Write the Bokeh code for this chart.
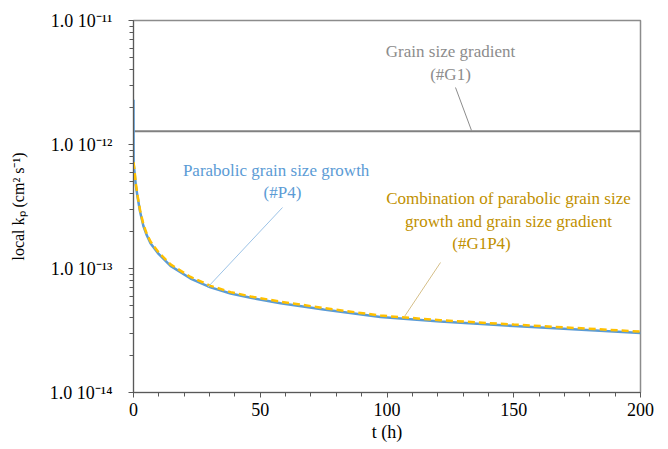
from bokeh.plotting import figure
from bokeh.models import (Range1d, FixedTicker, CustomJSTickFormatter, Label, ColumnDataSource)
from bokeh.embed import file_html
from bokeh.resources import INLINE

# ---------------- data ----------------
t_g1 = [0, 200]
kp_g1 = [1.28e-12, 1.28e-12]

t_p4 = [0, 0.05, 0.4, 0.9, 1.7, 2.6, 3.9, 5.2, 6.7, 9.9, 14.6, 22.5, 30.4, 38.3,
        46.2, 58, 75, 97.4, 121, 150, 200]
kp_p4 = [2.3e-12, 7.0e-13, 6.0e-13, 4.7e-13, 3.67e-13, 2.87e-13, 2.2e-13, 1.86e-13,
         1.6e-13, 1.31e-13, 1.05e-13, 8.3e-14, 7.05e-14, 6.28e-14, 5.8e-14, 5.25e-14,
         4.67e-14, 4.06e-14, 3.73e-14, 3.44e-14, 3.02e-14]

t_g1p4 = [0, 0.4, 0.9, 1.7, 2.6, 3.9, 5.2, 6.7, 9.9, 14.6, 22.5, 30.4, 38.3, 46.2,
          58, 75, 97.4, 121, 150, 200]
kp_g1p4 = [7.2e-13, 6.2e-13, 4.85e-13, 3.78e-13, 2.95e-13, 2.27e-13, 1.91e-13, 1.65e-13,
           1.35e-13, 1.08e-13, 8.55e-14, 7.25e-14, 6.45e-14, 5.95e-14, 5.4e-14, 4.8e-14,
           4.17e-14, 3.83e-14, 3.53e-14, 3.1e-14]

x_ticks = [0, 50, 100, 150, 200]
y_ticks = [1e-14, 1e-13, 1e-12, 1e-11]

# ---------------- styling ----------------
SERIF = "Liberation Serif"
GRAY = "#808080"
BLUE = "#5B9BD5"
GOLD = "#FFC000"
GOLD_TXT = "#BF9000"

p = figure(width=664, height=446, y_axis_type="log",
           x_range=Range1d(0, 200), y_range=Range1d(1e-14, 1e-11),
           output_backend="svg", toolbar_location=None,
           min_border_left=133, min_border_right=24,
           min_border_top=20, min_border_bottom=54)

p.xgrid.visible = False
p.ygrid.visible = False
p.outline_line_color = "#8c8c8c"
p.outline_line_width = 1.5
p.background_fill_color = "white"
p.border_fill_color = "white"

minor_y = [m * 10.0 ** e for e in (-14, -13, -12) for m in range(2, 10)]
p.yaxis.ticker = FixedTicker(ticks=y_ticks, minor_ticks=minor_y)
p.xaxis.ticker = FixedTicker(ticks=x_ticks, minor_ticks=list(range(0, 201, 10)))
p.yaxis.formatter = CustomJSTickFormatter(code="""
const e = Math.round(Math.log10(tick));
const sup = {'-':'\u207b','0':'\u2070','1':'\u00b9','2':'\u00b2','3':'\u00b3','4':'\u2074',
             '5':'\u2075','6':'\u2076','7':'\u2077','8':'\u2078','9':'\u2079'};
return '1.0 10' + String(e).split('').map(c => sup[c]).join('');
""")

for ax in (p.xaxis, p.yaxis):
    ax.axis_line_color = "#595959"
    ax.major_tick_line_color = "#595959"
    ax.minor_tick_line_color = "#595959"
    ax.major_tick_out = 5
    ax.major_tick_in = 0
    ax.minor_tick_out = 4
    ax.minor_tick_in = 0
    ax.major_label_text_font = SERIF
    ax.major_label_text_font_size = "18px"
    ax.major_label_text_color = "black"
    ax.axis_label_text_font = SERIF
    ax.axis_label_text_font_style = "normal"
    ax.axis_label_text_color = "black"

p.yaxis.major_label_standoff = 16
p.yaxis.axis_label = "local k\u209a (cm\u00b2 s\u207b\u00b9)"
p.yaxis.axis_label_text_font_size = "16px"
p.yaxis.axis_label_standoff = 20

p.xaxis.major_label_standoff = 5
p.xaxis.axis_label = "t (h)"
p.xaxis.axis_label_text_font_size = "18px"
p.xaxis.axis_label_standoff = 3

# ---------------- series ----------------
p.line(t_g1, kp_g1, line_color=GRAY, line_width=2)
p.line(t_p4, kp_p4, line_color=BLUE, line_width=2.5)
p.line(t_g1p4, kp_g1p4, line_color=GOLD, line_width=2.5, line_dash="7 4")

# ---------------- annotations ----------------
# canvas-pixel -> data conversion for annotation placement
X0, X1, YTOP, DEC = 133.0, 640.0, 20.0, 124.0
def tx(px):
    return (px - X0) / (X1 - X0) * 200.0
def vy(py):
    return 10.0 ** (-11.0 - (py - YTOP) / DEC)

def add_text(lines, cx, y_first, spacing, color, size="17px"):
    for i, s in enumerate(lines):
        p.add_layout(Label(x=tx(cx), y=vy(y_first + i * spacing), text=s,
                           text_font=SERIF, text_font_size=size, text_color=color,
                           text_align="center", text_baseline="middle"))

add_text(["Grain size gradient", "(#G1)"], 450, 51, 23, "#8c8c8c")
add_text(["Parabolic  grain  size  growth", "(#P4)"], 282, 170, 22, BLUE)
add_text(["Combination of parabolic grain size", "growth and grain size gradient"],
         508, 198, 23, GOLD_TXT)
add_text(["(#G1P4)"], 481, 243, 23, GOLD_TXT)

leaders = dict(
    x0=[tx(455), tx(282), tx(440)], y0=[vy(87), vy(207), vy(262)],
    x1=[tx(471), tx(207), tx(404)], y1=[vy(130), vy(287), vy(316)],
    c=["#8c8c8c", "#9DC3E6", "#D6C08A"])
p.segment(x0="x0", y0="y0", x1="x1", y1="y1", line_color="c", line_width=1,
          source=ColumnDataSource(leaders))

open("out.html", "w").write(file_html(p, INLINE))
